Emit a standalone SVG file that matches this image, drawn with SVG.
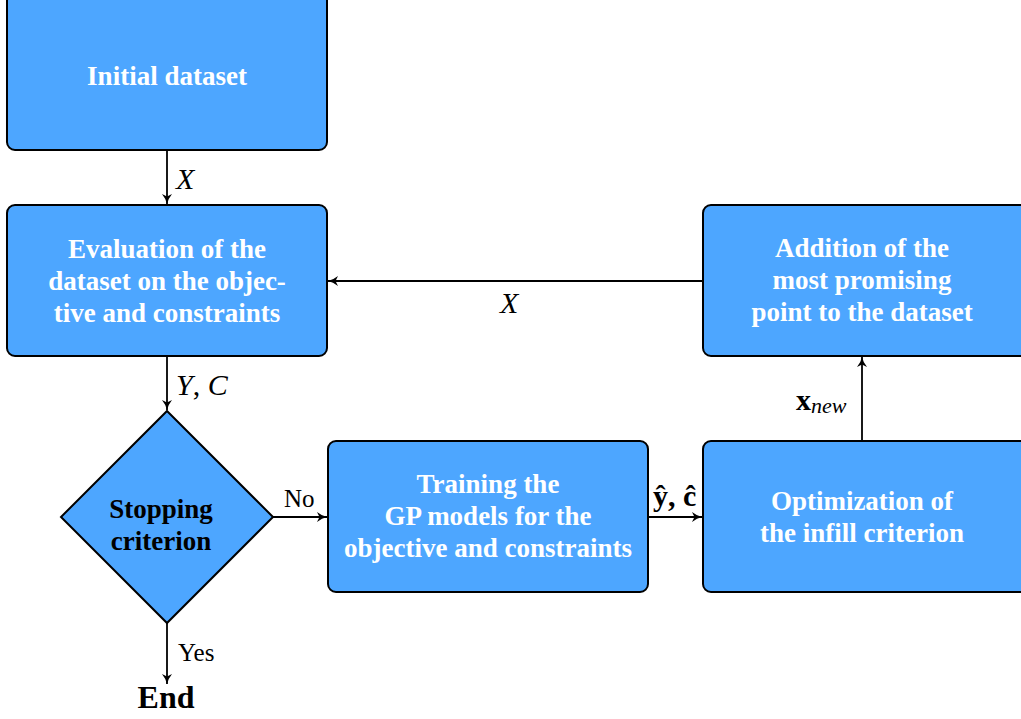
<svg xmlns="http://www.w3.org/2000/svg" width="1021" height="719" viewBox="0 0 1021 719">
<style>
.box{fill:#4da6ff;stroke:#000;stroke-width:2}
.t{font-family:"Liberation Serif",serif;font-weight:bold;font-size:27px;fill:#fff;text-anchor:middle}
.td{font-family:"Liberation Serif",serif;font-weight:bold;font-size:27px;fill:#000;text-anchor:middle}
.lab{font-family:"Liberation Serif",serif;font-size:25px;fill:#000}
.math{font-family:"Liberation Serif",serif;font-style:italic;font-size:30px;fill:#000}
.ln{stroke:#000;stroke-width:1.8;fill:none}
</style>
<defs>
<marker id="ah" markerWidth="12" markerHeight="12" refX="10" refY="6" orient="auto" markerUnits="userSpaceOnUse">
<path d="M0,1 Q5,5 10,6 Q5,7 0,11 L2.5,6 Z" fill="#000"/>
</marker>
</defs>
<rect width="1021" height="719" fill="#fff"/>
<g id="initial">
<rect class="box" x="7" y="-8" width="320" height="158" rx="8"/>
<text class="t" x="167" y="85">Initial dataset</text>
</g>
<g id="evaluation">
<rect class="box" x="7" y="205" width="320" height="151" rx="8"/>
<text class="t" x="167" y="258">Evaluation of the</text>
<text class="t" x="167" y="290">dataset on the objec-</text>
<text class="t" x="167" y="322">tive and constraints</text>
</g>
<g id="addition">
<rect class="box" x="703" y="205" width="330" height="151" rx="8"/>
<text class="t" x="862" y="257">Addition of the</text>
<text class="t" x="862" y="289">most promising</text>
<text class="t" x="862" y="321">point to the dataset</text>
</g>
<g id="stopping">
<polygon class="box" points="167,411 273,517 167,623 61,517"/>
<text class="td" x="161" y="518">Stopping</text>
<text class="td" x="161" y="550">criterion</text>
</g>
<g id="training">
<rect class="box" x="328" y="441" width="320" height="151" rx="8"/>
<text class="t" x="488" y="493">Training the</text>
<text class="t" x="488" y="525">GP models for the</text>
<text class="t" x="488" y="557">objective and constraints</text>
</g>
<g id="optimization">
<rect class="box" x="703" y="441" width="330" height="151" rx="8"/>
<text class="t" x="862" y="510">Optimization of</text>
<text class="t" x="862" y="542">the infill criterion</text>
</g>
<g id="end">
<text class="td" x="166" y="708" style="font-size:32px">End</text>
</g>
<g id="connectors">
<line class="ln" x1="167" y1="150" x2="167" y2="204" marker-end="url(#ah)"/>
<line class="ln" x1="703" y1="281" x2="328" y2="281" marker-end="url(#ah)"/>
<line class="ln" x1="167" y1="356" x2="167" y2="410" marker-end="url(#ah)"/>
<line class="ln" x1="273" y1="517" x2="327" y2="517" marker-end="url(#ah)"/>
<line class="ln" x1="648" y1="517" x2="702" y2="517" marker-end="url(#ah)"/>
<line class="ln" x1="862" y1="441" x2="862" y2="357" marker-end="url(#ah)"/>
<line class="ln" x1="167" y1="623" x2="167" y2="684" marker-end="url(#ah)"/>
<text class="math" x="176" y="189">X</text>
<text class="math" x="500" y="313">X</text>
<text class="math" x="176" y="395">Y<tspan font-style="normal">, </tspan>C</text>
<text class="lab" x="284" y="507">No</text>
<text class="lab" x="178" y="661">Yes</text>
<text x="653" y="506" style="font-family:'Liberation Serif',serif;font-weight:bold;font-size:30px">ŷ, ĉ</text>
<text x="796" y="410" style="font-family:'Liberation Serif',serif;font-weight:bold;font-size:30px">x<tspan font-weight="normal" font-style="italic" font-size="22" dy="3">new</tspan></text>
</g>
</svg>
